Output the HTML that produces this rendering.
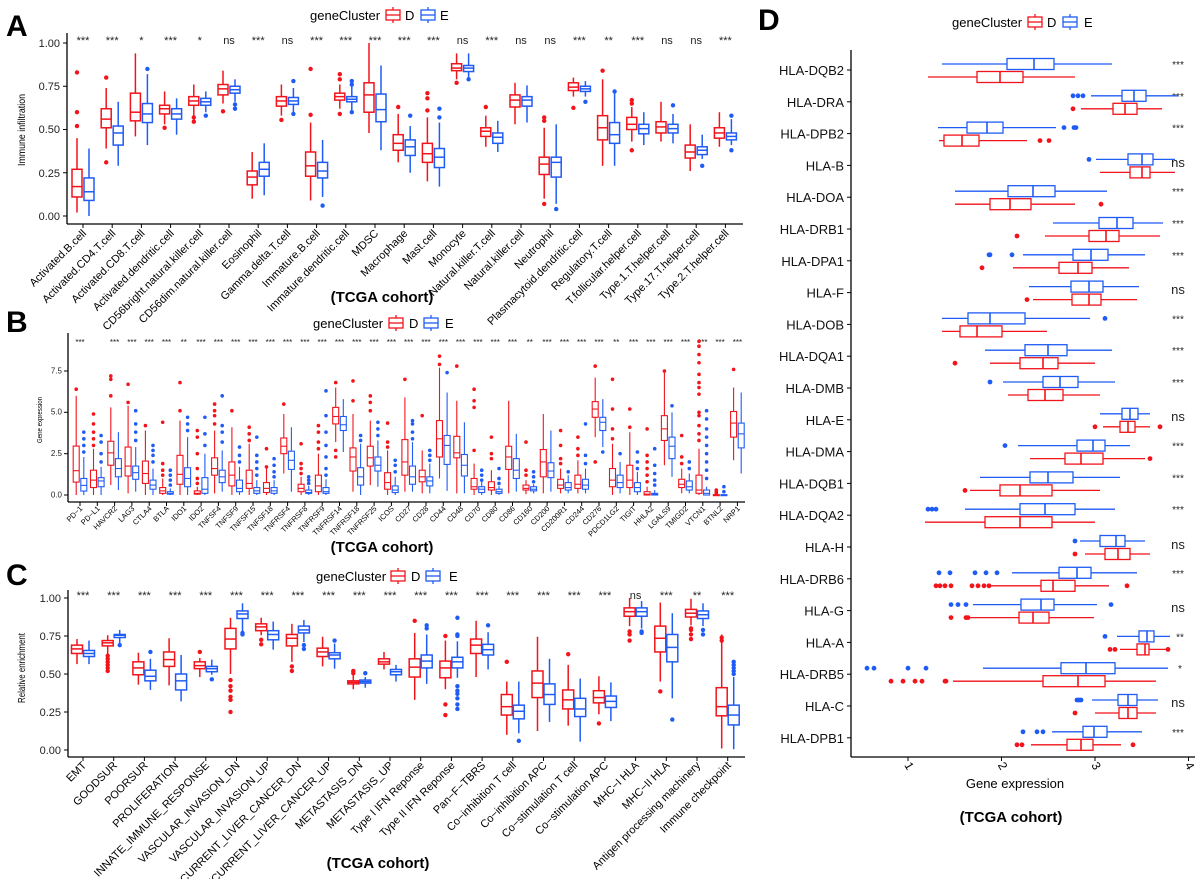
<!DOCTYPE html>
<html><head><meta charset="utf-8"><style>
html,body{margin:0;padding:0;background:#fff;}
svg{display:block;font-family:"Liberation Sans",sans-serif;}
.pl{font-weight:bold;font-size:30px;}
.ti{font-weight:bold;font-size:15px;}
.sg{font-size:11px;fill:#222;text-anchor:middle;}
.yt{font-size:11px;text-anchor:end;fill:#222;}
.lg{font-size:13px;}
</style></head><body>
<svg id="s" width="1200" height="879" viewBox="0 0 1200 879" xmlns="http://www.w3.org/2000/svg">
<rect width="1200" height="879" fill="#fff"/>
<text class="pl" x="6" y="36">A</text>
<text class="pl" x="6" y="332">B</text>
<text class="pl" x="6" y="585">C</text>
<text class="pl" x="758" y="30">D</text>

<!-- legends -->
<g id="legends"></g>
<text class="lg" x="310" y="20">geneCluster</text><text class="lg" x="405" y="20">D</text><text class="lg" x="440" y="20">E</text>
<text class="lg" x="313" y="328">geneCluster</text><text class="lg" x="409" y="328">D</text><text class="lg" x="445" y="328">E</text>
<text class="lg" x="316" y="581">geneCluster</text><text class="lg" x="411" y="581">D</text><text class="lg" x="449" y="581">E</text>
<text class="lg" x="952" y="27">geneCluster</text><text class="lg" x="1047" y="27">D</text><text class="lg" x="1084" y="27">E</text>

<!-- Panel A text -->
<g class="yt"><text x="60" y="47">1.00</text><text x="60" y="90">0.75</text><text x="60" y="133">0.50</text><text x="60" y="177">0.25</text><text x="60" y="220">0.00</text></g>
<text transform="translate(25,130) rotate(-90)" font-size="10" text-anchor="middle" textLength="72" lengthAdjust="spacingAndGlyphs">Immune infiltration</text>
<g class="sg">
<text x="83" y="44">***</text><text x="112.2" y="44">***</text><text x="141.4" y="44">*</text><text x="170.6" y="44">***</text><text x="199.8" y="44">*</text><text x="229" y="44">ns</text><text x="258.2" y="44">***</text><text x="287.4" y="44">ns</text><text x="316.6" y="44">***</text><text x="345.8" y="44">***</text><text x="375" y="44">***</text><text x="404.2" y="44">***</text><text x="433.4" y="44">***</text><text x="462.6" y="44">ns</text><text x="491.8" y="44">***</text><text x="521" y="44">ns</text><text x="550.2" y="44">ns</text><text x="579.4" y="44">***</text><text x="608.6" y="44">**</text><text x="637.8" y="44">***</text><text x="667" y="44">ns</text><text x="696.2" y="44">ns</text><text x="725.4" y="44">***</text>
</g>
<g font-size="11" text-anchor="end">
<text transform="translate(87,234) rotate(-45)">Activated.B.cell</text>
<text transform="translate(116.2,234) rotate(-45)">Activated.CD4.T.cell</text>
<text transform="translate(145.4,234) rotate(-45)">Activated.CD8.T.cell</text>
<text transform="translate(174.6,234) rotate(-45)">Activated.dendritic.cell</text>
<text transform="translate(203.8,234) rotate(-45)">CD56bright.natural.killer.cell</text>
<text transform="translate(233,234) rotate(-45)">CD56dim.natural.killer.cell</text>
<text transform="translate(262.2,234) rotate(-45)">Eosinophil</text>
<text transform="translate(291.4,234) rotate(-45)">Gamma.delta.T.cell</text>
<text transform="translate(320.6,234) rotate(-45)">Immature.B.cell</text>
<text transform="translate(349.8,234) rotate(-45)">Immature.dendritic.cell</text>
<text transform="translate(379,234) rotate(-45)">MDSC</text>
<text transform="translate(408.2,234) rotate(-45)">Macrophage</text>
<text transform="translate(437.4,234) rotate(-45)">Mast.cell</text>
<text transform="translate(466.6,234) rotate(-45)">Monocyte</text>
<text transform="translate(495.8,234) rotate(-45)">Natural.killer.T.cell</text>
<text transform="translate(525,234) rotate(-45)">Natural.killer.cell</text>
<text transform="translate(554.2,234) rotate(-45)">Neutrophil</text>
<text transform="translate(583.4,234) rotate(-45)">Plasmacytoid.dendritic.cell</text>
<text transform="translate(612.6,234) rotate(-45)">Regulatory.T.cell</text>
<text transform="translate(641.8,234) rotate(-45)">T.follicular.helper.cell</text>
<text transform="translate(671,234) rotate(-45)">Type.1.T.helper.cell</text>
<text transform="translate(700.2,234) rotate(-45)">Type.17.T.helper.cell</text>
<text transform="translate(729.4,234) rotate(-45)">Type.2.T.helper.cell</text>
</g>
<text class="ti" x="382" y="302" text-anchor="middle">(TCGA cohort)</text>

<!-- Panel B text -->
<g font-size="8" text-anchor="end" fill="#222"><text x="62" y="373.5">7.5</text><text x="62" y="414.5">5.0</text><text x="62" y="456">2.5</text><text x="62" y="497.5">0.0</text></g>
<text transform="translate(42,420) rotate(-90)" font-size="7.5" text-anchor="middle" textLength="46" lengthAdjust="spacingAndGlyphs">Gene expression</text>
<g font-size="8" text-anchor="middle" fill="#222">
<text x="80" y="345">***</text><text x="114.6" y="345">***</text><text x="131.9" y="345">***</text><text x="149.2" y="345">***</text><text x="166.5" y="345">***</text><text x="183.8" y="345">**</text><text x="201.1" y="345">***</text><text x="218.4" y="345">***</text><text x="235.7" y="345">***</text><text x="253" y="345">***</text><text x="270.3" y="345">***</text><text x="287.6" y="345">***</text><text x="304.9" y="345">***</text><text x="322.2" y="345">***</text><text x="339.5" y="345">***</text><text x="356.8" y="345">***</text><text x="374.1" y="345">***</text><text x="391.4" y="345">***</text><text x="408.7" y="345">***</text><text x="426" y="345">***</text><text x="443.3" y="345">***</text><text x="460.6" y="345">***</text><text x="477.9" y="345">***</text><text x="495.2" y="345">***</text><text x="512.5" y="345">***</text><text x="529.8" y="345">**</text><text x="547.1" y="345">***</text><text x="564.4" y="345">***</text><text x="581.7" y="345">***</text><text x="599" y="345">***</text><text x="616.3" y="345">**</text><text x="633.6" y="345">***</text><text x="650.9" y="345">***</text><text x="668.2" y="345">***</text><text x="685.5" y="345">***</text><text x="702.8" y="345">***</text><text x="720.1" y="345">***</text><text x="737.4" y="345">***</text>
</g>
<g font-size="7.5" text-anchor="end">
<text transform="translate(83,509) rotate(-45)">PD−1</text>
<text transform="translate(100.3,509) rotate(-45)">PD−L1</text>
<text transform="translate(117.6,509) rotate(-45)">HAVCR2</text>
<text transform="translate(134.9,509) rotate(-45)">LAG3</text>
<text transform="translate(152.2,509) rotate(-45)">CTLA4</text>
<text transform="translate(169.5,509) rotate(-45)">BTLA</text>
<text transform="translate(186.8,509) rotate(-45)">IDO1</text>
<text transform="translate(204.1,509) rotate(-45)">IDO2</text>
<text transform="translate(221.4,509) rotate(-45)">TNFSF4</text>
<text transform="translate(238.7,509) rotate(-45)">TNFSF9</text>
<text transform="translate(256,509) rotate(-45)">TNFSF15</text>
<text transform="translate(273.3,509) rotate(-45)">TNFSF18</text>
<text transform="translate(290.6,509) rotate(-45)">TNFRSF4</text>
<text transform="translate(307.9,509) rotate(-45)">TNFRSF8</text>
<text transform="translate(325.2,509) rotate(-45)">TNFRSF9</text>
<text transform="translate(342.5,509) rotate(-45)">TNFRSF14</text>
<text transform="translate(359.8,509) rotate(-45)">TNFRSF18</text>
<text transform="translate(377.1,509) rotate(-45)">TNFRSF25</text>
<text transform="translate(394.4,509) rotate(-45)">ICOS</text>
<text transform="translate(411.7,509) rotate(-45)">CD27</text>
<text transform="translate(429,509) rotate(-45)">CD28</text>
<text transform="translate(446.3,509) rotate(-45)">CD44</text>
<text transform="translate(463.6,509) rotate(-45)">CD48</text>
<text transform="translate(480.9,509) rotate(-45)">CD70</text>
<text transform="translate(498.2,509) rotate(-45)">CD80</text>
<text transform="translate(515.5,509) rotate(-45)">CD86</text>
<text transform="translate(532.8,509) rotate(-45)">CD160</text>
<text transform="translate(550.1,509) rotate(-45)">CD200</text>
<text transform="translate(567.4,509) rotate(-45)">CD200R1</text>
<text transform="translate(584.7,509) rotate(-45)">CD244</text>
<text transform="translate(602,509) rotate(-45)">CD276</text>
<text transform="translate(619.3,509) rotate(-45)">PDCD1LG2</text>
<text transform="translate(636.6,509) rotate(-45)">TIGIT</text>
<text transform="translate(653.9,509) rotate(-45)">HHLA2</text>
<text transform="translate(671.2,509) rotate(-45)">LGALS9</text>
<text transform="translate(688.5,509) rotate(-45)">TMIGD2</text>
<text transform="translate(705.8,509) rotate(-45)">VTCN1</text>
<text transform="translate(723.1,509) rotate(-45)">BTNL2</text>
<text transform="translate(740.4,509) rotate(-45)">NRP1</text>
</g>
<text class="ti" x="382" y="552" text-anchor="middle">(TCGA cohort)</text>

<!-- Panel C text -->
<g class="yt"><text x="61" y="602">1.00</text><text x="61" y="640">0.75</text><text x="61" y="678">0.50</text><text x="61" y="716">0.25</text><text x="61" y="754">0.00</text></g>
<text transform="translate(25,668) rotate(-90)" font-size="10" text-anchor="middle" textLength="70" lengthAdjust="spacingAndGlyphs">Relative enrichment</text>
<g class="sg">
<text x="83" y="599">***</text><text x="113.7" y="599">***</text><text x="144.4" y="599">***</text><text x="175.1" y="599">***</text><text x="205.8" y="599">***</text><text x="236.5" y="599">***</text><text x="267.2" y="599">***</text><text x="297.9" y="599">***</text><text x="328.6" y="599">***</text><text x="359.3" y="599">***</text><text x="390" y="599">***</text><text x="420.7" y="599">***</text><text x="451.4" y="599">***</text><text x="482.1" y="599">***</text><text x="512.8" y="599">***</text><text x="543.5" y="599">***</text><text x="574.2" y="599">***</text><text x="604.9" y="599">***</text><text x="635.6" y="599">ns</text><text x="666.3" y="599">***</text><text x="697" y="599">**</text><text x="727.7" y="599">***</text>
</g>
<g font-size="11" text-anchor="end">
<text transform="translate(87,766) rotate(-45)">EMT</text>
<text transform="translate(117.7,766) rotate(-45)">GOODSUR</text>
<text transform="translate(148.4,766) rotate(-45)">POORSUR</text>
<text transform="translate(179.1,766) rotate(-45)">PROLIFERATION</text>
<text transform="translate(209.8,766) rotate(-45)">INNATE_IMMUNE_RESPONSE</text>
<text transform="translate(240.5,766) rotate(-45)">VASCULAR_INVASION_DN</text>
<text transform="translate(271.2,766) rotate(-45)">VASCULAR_INVASION_UP</text>
<text transform="translate(301.9,766) rotate(-45)">RECURRENT_LIVER_CANCER_DN</text>
<text transform="translate(332.6,766) rotate(-45)">RECURRENT_LIVER_CANCER_UP</text>
<text transform="translate(363.3,766) rotate(-45)">METASTASIS_DN</text>
<text transform="translate(394,766) rotate(-45)">METASTASIS_UP</text>
<text transform="translate(424.7,766) rotate(-45)">Type I IFN Reponse</text>
<text transform="translate(455.4,766) rotate(-45)">Type II IFN Reponse</text>
<text transform="translate(486.1,766) rotate(-45)">Pan−F−TBRS</text>
<text transform="translate(516.8,766) rotate(-45)">Co−inhibition T cell</text>
<text transform="translate(547.5,766) rotate(-45)">Co−inhibition APC</text>
<text transform="translate(578.2,766) rotate(-45)">Co−stimulation T cell</text>
<text transform="translate(608.9,766) rotate(-45)">Co−stimulation APC</text>
<text transform="translate(639.6,766) rotate(-45)">MHC−I HLA</text>
<text transform="translate(670.3,766) rotate(-45)">MHC−II HLA</text>
<text transform="translate(701,766) rotate(-45)">Antigen processing machinery</text>
<text transform="translate(731.7,766) rotate(-45)">Immune checkpoint</text>
</g>
<text class="ti" x="378" y="868" text-anchor="middle">(TCGA cohort)</text>

<!-- Panel D text -->
<g font-size="13" text-anchor="end" fill="#111">
<text x="844" y="75">HLA-DQB2</text><text x="844" y="106.8">HLA-DRA</text><text x="844" y="138.6">HLA-DPB2</text><text x="844" y="170.4">HLA-B</text><text x="844" y="202.2">HLA-DOA</text><text x="844" y="234">HLA-DRB1</text><text x="844" y="265.8">HLA-DPA1</text><text x="844" y="297.6">HLA-F</text><text x="844" y="329.4">HLA-DOB</text><text x="844" y="361.2">HLA-DQA1</text><text x="844" y="393">HLA-DMB</text><text x="844" y="424.8">HLA-E</text><text x="844" y="456.6">HLA-DMA</text><text x="844" y="488.4">HLA-DQB1</text><text x="844" y="520.2">HLA-DQA2</text><text x="844" y="552">HLA-H</text><text x="844" y="583.8">HLA-DRB6</text><text x="844" y="615.6">HLA-G</text><text x="844" y="647.4">HLA-A</text><text x="844" y="679.2">HLA-DRB5</text><text x="844" y="711">HLA-C</text><text x="844" y="742.8">HLA-DPB1</text>
</g>
<g text-anchor="middle" fill="#222">
<text x="1178" y="68" font-size="10">***</text><text x="1178" y="99.8" font-size="10">***</text><text x="1178" y="131.6" font-size="10">***</text><text x="1178" y="167" font-size="13">ns</text><text x="1178" y="195.2" font-size="10">***</text><text x="1178" y="227" font-size="10">***</text><text x="1178" y="258.8" font-size="10">***</text><text x="1178" y="294" font-size="13">ns</text><text x="1178" y="322.4" font-size="10">***</text><text x="1178" y="354.2" font-size="10">***</text><text x="1178" y="386" font-size="10">***</text><text x="1178" y="421" font-size="13">ns</text><text x="1178" y="449.6" font-size="10">***</text><text x="1178" y="481.4" font-size="10">***</text><text x="1178" y="513.2" font-size="10">***</text><text x="1178" y="549" font-size="13">ns</text><text x="1178" y="576.8" font-size="10">***</text><text x="1178" y="612" font-size="13">ns</text><text x="1180" y="640.4" font-size="10">**</text><text x="1180" y="672.2" font-size="10">*</text><text x="1178" y="707" font-size="13">ns</text><text x="1178" y="735.8" font-size="10">***</text>
</g>
<g font-size="12">
<text transform="translate(904,765) rotate(60)">1</text><text transform="translate(997.5,765) rotate(60)">2</text><text transform="translate(1091,765) rotate(60)">3</text><text transform="translate(1184.5,765) rotate(60)">4</text>
</g>
<text x="1015" y="788" font-size="13" text-anchor="middle">Gene expression</text>
<text class="ti" x="1011" y="822" text-anchor="middle">(TCGA cohort)</text>
<g id="g"></g>
</svg>
<script>
(function(){
var NS="http://www.w3.org/2000/svg",G=document.getElementById("g");
var RC="#F2131B",BC="#1F5CF5";
function e(t,a,p){var n=document.createElementNS(NS,t);for(var k in a)n.setAttribute(k,a[k]);(p||G).appendChild(n);return n;}
function L(x1,y1,x2,y2,c,w){e("line",{x1:x1,y1:y1,x2:x2,y2:y2,stroke:c||"#000","stroke-width":w||1});}
function vbox(cx,w,d,Y,c,sw){var q1=Y(d[0]),m=Y(d[1]),q3=Y(d[2]),lo=Y(d[3]),hi=Y(d[4]);
L(cx,lo,cx,q1,c,sw);L(cx,q3,cx,hi,c,sw);
e("rect",{x:cx-w/2,y:q3,width:w,height:Math.max(q1-q3,1),fill:"#fff",stroke:c,"stroke-width":sw});
L(cx-w/2,m,cx+w/2,m,c,sw);
for(var i=5;i<d.length;i++)e("circle",{cx:cx,cy:Y(d[i]),r:sw>1.2?2.2:1.8,fill:c});}
function hbox(cy,h,d,c){L(d[0],cy,d[1],cy,c,1.3);L(d[3],cy,d[4],cy,c,1.3);
e("rect",{x:d[1],y:cy-h/2,width:d[3]-d[1],height:h,fill:"#fff",stroke:c,"stroke-width":1.3});
L(d[2],cy-h/2,d[2],cy+h/2,c,1.6);
for(var i=5;i<d.length;i++)e("circle",{cx:d[i],cy:cy,r:2.4,fill:c});}
function panel(x0,data,sp,off,w,Y,sw,ax){
for(var i=0;i<data.length;i++){var x=x0+sp*i;vbox(x-off,w,data[i][0],Y,RC,sw);vbox(x+off,w,data[i][1],Y,BC,sw);L(x,ax,x,ax+4,"#000",1);}}
// axes
function axes(xl,yt,yb,xr,yticks){L(xl,yt,xl,yb,"#000",1.3);L(xl,yb,xr,yb,"#000",1.3);yticks.forEach(function(y){L(xl-4,y,xl,y,"#000",1);});}
axes(67,33,224,743,[43,86.25,129.5,172.75,216]);
axes(68,333,502,745,[371,412.3,453.7,495]);
axes(68,590,757,745,[598,636,674,712,750]);
// Panel A
var A=[
[[.11,.17,.27,.02,.45,.52,.6,.83],[.09,.14,.22,0,.39]],
[[.51,.56,.62,.39,.74,.31,.8],[.41,.48,.52,.29,.66]],
[[.55,.6,.71,.46,.94],[.54,.59,.65,.41,.82,.85]],
[[.59,.62,.64,.53,.72,.51],[.56,.59,.62,.47,.68]],
[[.64,.665,.69,.58,.76,.545,.57],[.64,.66,.68,.6,.72,.58]],
[[.7,.735,.76,.65,.84,.605],[.71,.73,.75,.66,.79,.62,.645]],
[[.18,.225,.26,.1,.37],[.23,.27,.31,.12,.42]],
[[.635,.665,.69,.58,.76,.555],[.645,.665,.685,.6,.74,.59,.78]],
[[.23,.29,.37,.09,.54,.585,.85],[.22,.26,.31,.11,.44,.06]],
[[.67,.69,.71,.62,.76,.59,.79,.82],[.66,.675,.69,.61,.75,.6,.76,.78]],
[[.6,.7,.77,.48,1.0],[.545,.615,.705,.38,.87]],
[[.38,.42,.47,.31,.59,.63],[.35,.40,.44,.25,.52,.58]],
[[.31,.36,.42,.20,.57,.61,.68,.71],[.28,.34,.39,.17,.54,.57,.62]],
[[.84,.855,.88,.79,.94,.77],[.835,.855,.87,.8,.94,.79]],
[[.46,.49,.51,.40,.58,.63],[.42,.455,.48,.37,.55]],
[[.63,.67,.70,.53,.77],[.635,.67,.69,.54,.755]],
[[.24,.30,.34,.1,.51,.55,.57,.07],[.225,.31,.34,.07,.53,.04]],
[[.725,.745,.77,.69,.80,.625],[.72,.735,.75,.69,.78,.66]],
[[.44,.51,.58,.29,.79,.84],[.42,.47,.54,.29,.72,.72]],
[[.50,.53,.57,.43,.63,.67,.65,.38],[.475,.505,.53,.41,.60]],
[[.48,.515,.545,.43,.66],[.48,.505,.53,.42,.59,.64]],
[[.335,.37,.41,.26,.53],[.355,.38,.40,.33,.47,.29]],
[[.45,.48,.51,.40,.60],[.44,.46,.48,.41,.56,.38,.58]]];
panel(83,A,29.2,6,10,function(v){return 216-173*v;},1.5,224);
// Panel B
var Bd=[
[[.78,1.47,2.96,0,6.0,6.4],[.24,.58,1.0,0,2.3,2.6,3.0,3.4,3.8]],
[[.45,.9,1.5,0,2.8,3.0,3.4,3.8,4.3,4.9],[.5,.85,1.05,0,1.7,2.0,2.5,3.2,3.6]],
[[1.8,2.55,3.25,.6,5.3,6,7,7.2],[1.1,1.6,2.2,.3,3.8]],
[[1.15,1.75,2.9,.1,5.4,5.6,6.7],[.95,1.35,1.75,.2,2.9,3.3,3.8,4.3,5.1]],
[[.7,1.3,2.05,0,3.9,4.2],[.35,.6,.9,0,1.6,2.0,2.4,2.7,3.0]],
[[.1,.25,.45,0,1.0,1.2,1.5,1.9,4.4],[.05,.1,.2,0,.4,.6,.9,1.2,1.5]],
[[.65,1.25,2.4,0,4.5,5.1,6.8],[.5,1.0,1.65,0,3.5,3.9,4.3,4.7]],
[[.05,.1,.25,0,.5,.7,1.0,1.6,2.5,3.5,3.9],[.1,.35,1.05,0,2.5,3.0,3.7,4.7]],
[[1.2,1.6,2.25,.1,3.9,4.3,4.8,5.1,5.5],[.75,1.1,1.5,.2,2.7,3.2,3.8,4.2,6.0]],
[[.55,1.2,2.0,0,4.1,5.1],[.2,.4,.9,0,1.7,2.0,2.4,2.9]],
[[.4,.7,1.5,0,3.1,3.3,3.7,4.1],[.1,.25,.45,0,.9,1.2,1.6,2.0,2.4,3.5]],
[[.15,.4,.75,0,1.6,1.7,2.8],[.1,.25,.45,0,.9,1.1,1.4,1.8,2.2]],
[[2.5,2.95,3.45,1.3,4.9,5.5],[1.55,2.1,2.65,.2,4.1]],
[[.2,.4,.65,0,1.1,1.3,1.6,1.9,3.1],[.1,.15,.3,0,.55,.7,.9,1.1]],
[[.2,.55,1.2,0,2.5,2.8,3.2,3.8,4.2],[.1,.2,.45,0,.95,1.2,1.6,2.3,3.0,3.8,4.8,6.3]],
[[4.3,4.75,5.3,3.2,6.5,2.3,2.7,6.8],[3.9,4.25,4.75,2.6,5.8]],
[[1.45,2.3,2.85,.2,4.9,5.7,6.9],[.6,1.1,1.65,0,3.1,3.3,3.6]],
[[1.75,2.25,2.95,.6,4.5,5.1,5.6,6.0],[1.45,1.8,2.3,.5,3.3,3.6,4.0,4.4]],
[[.35,.75,1.35,0,2.7,2.9,3.2,4.35],[.15,.3,.55,0,1.1,1.4,1.8,2.1]],
[[1.2,2.0,3.35,.2,5.9,7.0],[.65,1.1,1.75,.2,3.2,3.4,3.8,4.3,4.5]],
[[.8,1.1,1.5,.1,2.7,4.8],[.55,.85,1.1,.1,1.9,2.1,2.4,2.7]],
[[2.3,3.4,4.5,1.0,7.7,7.9,8.4],[1.85,3.0,3.6,.25,6.2,7.4]],
[[2.25,2.55,3.55,.1,5.7,7.8],[1.15,1.8,2.45,.1,4.4]],
[[.35,.5,1.0,0,1.9,2.7,5.3,5.7,6.4],[.15,.35,.5,0,.8,.9,1.2,1.5]],
[[.3,.45,.8,0,1.5,2.2,2.5,3.5],[.1,.2,.35,0,.55,.7,1.0,1.6]],
[[1.55,2.3,2.95,.1,5.7],[1.0,1.5,2.2,.2,3.7]],
[[.3,.4,.6,.05,.9,1.2,1.5,3.2],[.25,.35,.5,.1,.65,.8,1.1,1.4]],
[[1.1,2.0,2.75,.1,4.9],[1.05,1.45,1.95,.2,3.9]],
[[.4,.6,.95,.1,1.6,1.9,2.2,3.0,3.9],[.3,.45,.75,.1,1.2,1.4]],
[[.4,.65,1.2,.1,2.1,2.4,2.8,3.5],[.35,.6,.95,.1,1.6,1.9,2.4,4.3]],
[[4.7,5.2,5.65,3.5,7.1,2.0,7.8],[3.9,4.4,4.7,2.9,5.8,2.6]],
[[.5,.9,1.6,0,3.1,3.4,4.0,5.2,7.0],[.45,.75,1.2,.1,2.0,2.5]],
[[.45,.9,1.8,0,3.8,4.1,5.2],[.2,.45,.75,0,1.4,1.6,2.0,2.6]],
[[0,.05,.2,0,.5,.8,1.2,1.6,2.0,2.4,4.0],[0,.05,.1,0,.3,.6,.9,1.3,1.8,2.8]],
[[3.3,4.0,4.8,1.8,7.4,7.5],[2.2,2.95,3.5,1.1,5.0,5.4]],
[[.45,.65,.95,.1,1.6,1.9,2.3,3.6],[.3,.5,.85,.1,1.3,1.6,2.0]],
[[.1,.3,1.2,0,2.8,3.3,3.7,4.2,4.8,5.0,6.1,6.5,6.8,7.3,8.0,8.5,9.0,9.3],[0,.1,.3,0,.5,1,1.5,2,2.5,3,3.5,4.0,4.6,5.1]],
[[0,0,.02,0,.05,.1,.2,.3],[0,0,.02,0,.05,.2,.5]],
[[3.5,4.35,5.05,2.1,6.5,7.6],[2.85,3.7,4.35,1.3,6.2]]];
panel(80,Bd,17.3,3.8,6,function(v){return 495-16.53*v;},1.1,502);
// Panel C
var C=[
[[.635,.665,.69,.565,.73],[.615,.635,.655,.565,.72]],
[[.685,.705,.72,.63,.755,.52,.54,.56,.58,.6,.62],[.74,.755,.76,.70,.79,.69]],
[[.495,.54,.58,.43,.64],[.455,.485,.525,.395,.6,.645]],
[[.55,.595,.645,.425,.735],[.395,.455,.50,.32,.625]],
[[.535,.555,.58,.48,.605,.645],[.515,.535,.55,.495,.595,.465]],
[[.665,.73,.80,.5,.87,.46,.42,.39,.35,.33,.25],[.865,.895,.915,.78,.965,.77,.76]],
[[.785,.81,.83,.755,.87,.725,.695],[.725,.76,.785,.66,.845]],
[[.685,.735,.76,.58,.83,.55,.52],[.77,.79,.815,.71,.855,.69,.665]],
[[.615,.645,.67,.55,.745],[.6,.625,.64,.535,.7,.72]],
[[.435,.445,.455,.4,.5,.505,.52],[.44,.45,.46,.41,.48,.505]],
[[.565,.58,.6,.53,.645],[.495,.515,.53,.45,.56]],
[[.48,.545,.60,.33,.77,.85],[.54,.585,.625,.435,.76,.80,.82]],
[[.475,.54,.585,.4,.72,.75,.30,.23],[.54,.58,.61,.475,.715,.87,.76,.75,.42,.39,.37,.34,.30,.27]],
[[.635,.69,.73,.48,.85],[.625,.66,.695,.53,.775,.82]],
[[.23,.285,.365,.10,.45,.58],[.205,.255,.295,.11,.45,.06]],
[[.345,.44,.52,.125,.745],[.30,.365,.435,.185,.60]],
[[.27,.33,.395,.16,.56,.63],[.22,.27,.34,.055,.47]],
[[.31,.345,.39,.235,.485,.175],[.28,.32,.355,.19,.445]],
[[.88,.91,.935,.815,1.0,.78,.76,.72],[.88,.91,.935,.80,.98,.78,.77]],
[[.645,.735,.815,.45,.97,.385],[.58,.675,.76,.34,.90,.2]],
[[.875,.90,.925,.82,.995,.80,.79,.76,.73],[.865,.89,.915,.815,.965,.79,.76]],
[[.225,.285,.41,.01,.76,.72,.74],[.165,.23,.295,.005,.48,.50,.52,.54,.56,.58]]];
panel(83,C,30.7,6,11,function(v){return 750-152*v;},1.5,757);
// Panel D
L(851,50,851,757,"#000",1.3);L(851,757,1195,757,"#000",1.3);
[908,1001.5,1095,1188.5].forEach(function(x){L(x,757,x,761,"#000",1);});
var D=[
[[928,977,1000,1023,1075],[942,1007,1034,1054,1112]],
[[1081,1113,1125,1137,1162,1073],[1091,1122,1134,1146,1178,1073,1078,1083]],
[[939,944,962,979,1027,1040,1049],[938,967,987,1003,1056,1064,1074,1076]],
[[1100,1130,1142,1150,1175],[1096,1128,1142,1153,1175,1089]],
[[955,990,1010,1031,1075,1101],[955,1008,1033,1055,1107]],
[[1045,1089,1106,1119,1160,1017],[1053,1099,1117,1133,1163]],
[[1013,1059,1078,1092,1129,982],[1023,1073,1091,1108,1145,989,990,1012]],
[[1033,1072,1089,1101,1137,1027],[1029,1071,1089,1103,1139]],
[[942,960,977,1002,1047],[942,968,990,1025,1090,1105]],
[[990,1020,1043,1058,1095,955],[985,1025,1048,1067,1112]],
[[1008,1028,1045,1063,1100],[1003,1043,1060,1078,1115,990]],
[[1103,1120,1128,1135,1150,1095,1160],[1100,1122,1130,1138,1150]],
[[1030,1065,1081,1103,1145,1150],[1018,1077,1093,1105,1130,1005]],
[[970,1000,1020,1052,1100,965],[980,1030,1048,1073,1120]],
[[925,985,1020,1052,1095],[965,1020,1045,1075,1115,928,932,936]],
[[1085,1105,1118,1130,1150,1075],[1080,1100,1116,1125,1145,1075]],
[[990,1041,1053,1075,1109,1127,936,940,945,951,972,978,984,989],[1012,1059,1077,1091,1137,939,950,975,986,997]],
[[970,1019,1033,1049,1094,951,966,968],[973,1021,1041,1054,1097,951,958,966,1111]],
[[1120,1137,1145,1149,1167,1110,1115,1168],[1117,1139,1147,1154,1170,1105]],
[[953,1043,1078,1105,1156,891,903,915,922,945,946],[983,1061,1086,1115,1168,867,874,908,926]],
[[1095,1119,1128,1137,1156,1075],[1092,1118,1128,1137,1158,1077,1079,1081]],
[[1031,1067,1081,1093,1121,1017,1022,1133],[1052,1083,1094,1107,1142,1023,1037,1043]]];
for(var i=0;i<D.length;i++){var y=70+31.8*i;L(847,y,851,y,"#000",1);hbox(y-6,11,D[i][1],BC);hbox(y+7,11,D[i][0],RC);}
// legend icons
function icon(x,y,c){L(x+7,y-8,x+7,y+8,c,1.3);e("rect",{x:x,y:y-5,width:14,height:10,fill:"#fff",stroke:c,"stroke-width":1.3});L(x,y,x+14,y,c,1.3);}
[[386,15],[389,323],[391,576],[1028,22]].forEach(function(p){icon(p[0],p[1],RC);icon(p[0]+35,p[1],BC);});
})();
</script>
</body></html>
